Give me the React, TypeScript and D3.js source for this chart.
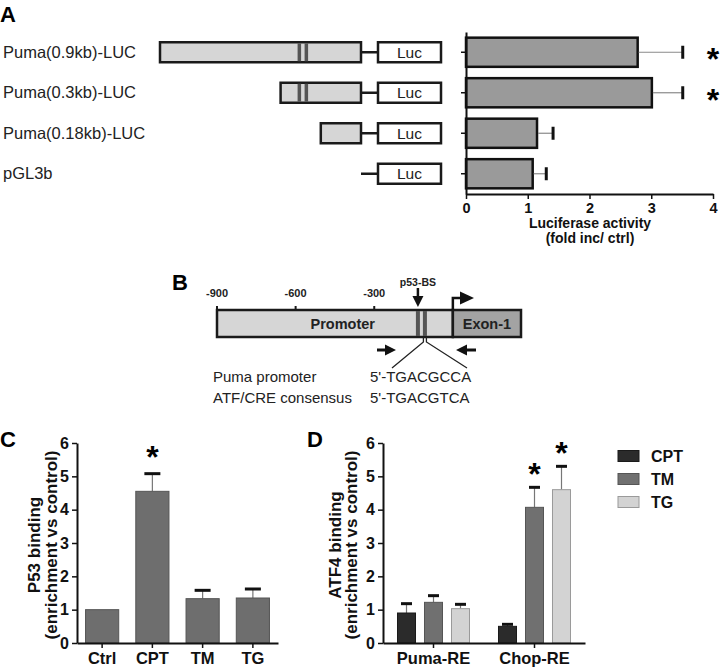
import { useEffect, useRef } from "react";
import * as d3 from "d3";

// Panel A: reporter constructs and luciferase activity
const constructs = ["Puma(0.9kb)-LUC", "Puma(0.3kb)-LUC", "Puma(0.18kb)-LUC", "pGL3b"];
const fragmentStartBp = [-900, -360, -180, null];
const lucMean = [2.78, 3.01, 1.15, 1.08];
const lucSem = [0.73, 0.5, 0.26, 0.22];
const lucSig = [true, true, false, false];
const lucTicks = [0, 1, 2, 3, 4];

// Panel B: promoter map
const mapTicksBp = [-900, -600, -300];
const seqRows = [
  ["Puma promoter", "5'-TGACGCCA"],
  ["ATF/CRE consensus", "5'-TGACGTCA"],
];

// Panel C: P53 ChIP
const cCats = ["Ctrl", "CPT", "TM", "TG"];
const cMean = [1.0, 4.55, 1.33, 1.35];
const cSem = [0, 0.53, 0.25, 0.27];
const cSig = [false, true, false, false];

// Panel D: ATF4 ChIP
const dGroups = ["Puma-RE", "Chop-RE"];
const dSeries = ["CPT", "TM", "TG"];
const dMean = [
  [0.9, 0.5],
  [1.22, 4.07],
  [1.03, 4.6],
];
const dSem = [
  [0.28, 0.06],
  [0.2, 0.6],
  [0.13, 0.7],
];
const dSig = [
  [false, false],
  [false, true],
  [false, true],
];
const bindingTicks = [0, 1, 2, 3, 4, 5, 6];

const FONT = "'Liberation Sans', Arial, Helvetica, sans-serif";

function App() {
  const ref = useRef<SVGSVGElement>(null);

  useEffect(() => {
    const svg = d3.select(ref.current);
    svg.selectAll("*").remove();
    svg.attr("font-family", FONT);

    const letter = (t: string, x: number, y: number) =>
      svg.append("text").attr("x", x).attr("y", y).attr("font-size", 22).attr("font-weight", "bold").text(t);

    const star = (x: number, cy: number) =>
      svg
        .append("text")
        .attr("x", x)
        .attr("y", cy + 18)
        .attr("text-anchor", "middle")
        .attr("font-size", 32)
        .attr("font-weight", "bold")
        .text("*");

    // ---------- Panel A ----------
    letter("A", 0, 22);

    const rowA = d3.scaleBand().domain(constructs).range([32, 194]).paddingInner(0.28).paddingOuter(0.14);
    const bpA = d3.scaleLinear().domain([-900, 0]).range([160, 361]);
    const xA = d3.scaleLinear().domain([0, 4]).range([466, 713]);
    const bsA = -266;
    const lucX = 378;
    const lucW = 63;

    constructs.forEach((c, i) => {
      const cy = rowA(c)! + rowA.bandwidth() / 2;
      svg
        .append("text")
        .attr("x", 3)
        .attr("y", cy + 5.5)
        .attr("font-size", 16.5)
        .attr("fill", "#222")
        .text(c);

      const start = fragmentStartBp[i];
      svg
        .append("line")
        .attr("x1", bpA(0))
        .attr("x2", lucX)
        .attr("y1", cy)
        .attr("y2", cy)
        .attr("stroke", "#1a1a1a")
        .attr("stroke-width", 2.5);
      if (start !== null) {
        svg
          .append("rect")
          .attr("x", bpA(start))
          .attr("y", cy - 10)
          .attr("width", bpA(0) - bpA(start))
          .attr("height", 20)
          .attr("fill", "#d6d6d6")
          .attr("stroke", "#1a1a1a")
          .attr("stroke-width", 2.5);
        if (start < bsA) {
          [-4, 3].forEach((dx) =>
            svg
              .append("rect")
              .attr("x", bpA(bsA) + dx)
              .attr("y", cy - 9)
              .attr("width", 3.5)
              .attr("height", 18)
              .attr("fill", "#555")
          );
        }
      }
      svg
        .append("rect")
        .attr("x", lucX)
        .attr("y", cy - 10)
        .attr("width", lucW)
        .attr("height", 20)
        .attr("fill", "#fff")
        .attr("stroke", "#1a1a1a")
        .attr("stroke-width", 2.5);
      svg
        .append("text")
        .attr("x", lucX + lucW / 2)
        .attr("y", cy + 5.5)
        .attr("text-anchor", "middle")
        .attr("font-size", 15.5)
        .attr("fill", "#222")
        .text("Luc");

      // bar
      svg
        .append("rect")
        .attr("x", xA(0))
        .attr("y", rowA(c)!)
        .attr("width", xA(lucMean[i]) - xA(0))
        .attr("height", rowA.bandwidth())
        .attr("fill", "#9a9a9a")
        .attr("stroke", "#111")
        .attr("stroke-width", 2.5);
      const xe = xA(lucMean[i] + lucSem[i]);
      svg
        .append("line")
        .attr("x1", xA(lucMean[i]) + 1)
        .attr("x2", xe)
        .attr("y1", cy)
        .attr("y2", cy)
        .attr("stroke", "#8a8a8a")
        .attr("stroke-width", 1.2);
      svg
        .append("line")
        .attr("x1", xe)
        .attr("x2", xe)
        .attr("y1", cy - 6.5)
        .attr("y2", cy + 6.5)
        .attr("stroke", "#111")
        .attr("stroke-width", 3);
      if (lucSig[i]) star(713, cy);
    });

    const axA = svg.append("g").attr("transform", "translate(0,194)").call(
      d3.axisBottom(xA).tickValues(lucTicks).tickFormat(d3.format("d")).tickSize(5).tickSizeOuter(0).tickPadding(4)
    );
    const ayA = svg.append("g").attr("transform", "translate(466,0)").call(
      d3.axisLeft(rowA).tickSize(5).tickSizeOuter(0).tickFormat(() => "")
    );
    [axA, ayA].forEach((g) => {
      g.select(".domain").attr("stroke", "#111").attr("stroke-width", 2);
      g.selectAll(".tick line").attr("stroke", "#111").attr("stroke-width", 1.5);
      g.selectAll("text").attr("font-family", FONT).attr("font-size", 14.5).attr("font-weight", "bold").attr("fill", "#111");
    });
    ["Luciferase activity", "(fold inc/ ctrl)"].forEach((t, k) =>
      svg
        .append("text")
        .attr("x", 590)
        .attr("y", 228 + k * 15)
        .attr("text-anchor", "middle")
        .attr("font-size", 14)
        .attr("font-weight", "bold")
        .attr("fill", "#111")
        .text(t)
    );

    // ---------- Panel B ----------
    letter("B", 172, 290);
    const bpB = d3.scaleLinear().domain([-900, 260]).range([217, 521]);
    const bsB = -120;
    const boxTop = 310;
    const boxH = 27;

    svg
      .append("rect")
      .attr("x", bpB(-900))
      .attr("y", boxTop)
      .attr("width", bpB(0) - bpB(-900))
      .attr("height", boxH)
      .attr("fill", "#d6d6d6")
      .attr("stroke", "#1a1a1a")
      .attr("stroke-width", 2.5);
    svg
      .append("rect")
      .attr("x", bpB(0))
      .attr("y", boxTop)
      .attr("width", bpB(260) - bpB(0))
      .attr("height", boxH)
      .attr("fill", "#a3a3a3")
      .attr("stroke", "#1a1a1a")
      .attr("stroke-width", 2.5);
    [-5.5, 1.5].forEach((dx) =>
      svg
        .append("rect")
        .attr("x", bpB(bsB) + dx)
        .attr("y", boxTop + 1)
        .attr("width", 4)
        .attr("height", boxH - 2)
        .attr("fill", "#555")
    );
    mapTicksBp.forEach((b) => {
      svg
        .append("line")
        .attr("x1", bpB(b))
        .attr("x2", bpB(b))
        .attr("y1", boxTop)
        .attr("y2", boxTop - 4)
        .attr("stroke", "#1a1a1a")
        .attr("stroke-width", 2);
      svg
        .append("text")
        .attr("x", bpB(b))
        .attr("y", 297)
        .attr("text-anchor", "middle")
        .attr("font-size", 11)
        .attr("font-weight", "bold")
        .attr("fill", "#222")
        .text(String(b));
    });
    svg
      .append("text")
      .attr("x", bpB(-420))
      .attr("y", boxTop + boxH / 2 + 5)
      .attr("text-anchor", "middle")
      .attr("font-size", 14.5)
      .attr("font-weight", "bold")
      .attr("fill", "#222")
      .text("Promoter");
    svg
      .append("text")
      .attr("x", (bpB(0) + bpB(260)) / 2)
      .attr("y", boxTop + boxH / 2 + 5)
      .attr("text-anchor", "middle")
      .attr("font-size", 14.5)
      .attr("font-weight", "bold")
      .attr("fill", "#222")
      .text("Exon-1");

    // p53-BS arrow
    const ax = bpB(bsB) - 3.5;
    svg
      .append("text")
      .attr("x", ax)
      .attr("y", 286)
      .attr("text-anchor", "middle")
      .attr("font-size", 10.5)
      .attr("font-weight", "bold")
      .attr("fill", "#222")
      .text("p53-BS");
    svg.append("line").attr("x1", ax).attr("x2", ax).attr("y1", 288).attr("y2", 298).attr("stroke", "#111").attr("stroke-width", 2.5);
    svg
      .append("path")
      .attr("d", `M${ax - 5.5},296 L${ax + 5.5},296 L${ax},307 Z`)
      .attr("fill", "#111");

    // transcription start
    const tss = bpB(0);
    svg
      .append("path")
      .attr("d", `M${tss},${boxTop} V298 H462`)
      .attr("fill", "none")
      .attr("stroke", "#111")
      .attr("stroke-width", 2.5);
    svg.append("path").attr("d", `M460,291.5 L474,298 L460,304.5 Z`).attr("fill", "#111");

    // primers
    svg.append("line").attr("x1", 377).attr("x2", 387).attr("y1", 350).attr("y2", 350).attr("stroke", "#111").attr("stroke-width", 3);
    svg.append("path").attr("d", "M385,344.5 L396,350 L385,355.5 Z").attr("fill", "#111");
    svg.append("line").attr("x1", 465).attr("x2", 476).attr("y1", 350).attr("y2", 350).attr("stroke", "#111").attr("stroke-width", 3);
    svg.append("path").attr("d", "M467,344.5 L456,350 L467,355.5 Z").attr("fill", "#111");

    // zoom lines to sequence
    const sx = bpB(bsB) + 3.5;
    svg
      .append("path")
      .attr("d", `M${sx - 1.5},${boxTop + boxH} V342 L392,368 M${sx + 1.5},${boxTop + boxH} V342 L467,368`)
      .attr("fill", "none")
      .attr("stroke", "#222")
      .attr("stroke-width", 1.3);

    seqRows.forEach((r, k) => {
      svg
        .append("text")
        .attr("x", 213)
        .attr("y", 382 + k * 21)
        .attr("font-size", 15)
        .attr("fill", "#222")
        .text(r[0]);
      svg
        .append("text")
        .attr("x", 370)
        .attr("y", 382 + k * 21)
        .attr("font-size", 15)
        .attr("fill", "#222")
        .text(r[1]);
    });

    // ---------- Panels C and D shared ----------
    const yBind = d3.scaleLinear().domain([0, 6]).range([643, 443]);

    const styleAxis = (g: d3.Selection<SVGGElement, unknown, null, undefined>, fs: number) => {
      g.select(".domain").attr("stroke", "#111").attr("stroke-width", 2);
      g.selectAll(".tick line").attr("stroke", "#111").attr("stroke-width", 1.5);
      g.selectAll("text").attr("font-family", FONT).attr("font-size", fs).attr("font-weight", "bold").attr("fill", "#111");
    };

    const yTitle = (x1: number, x2: number, t1: string) => {
      [
        [x1, t1],
        [x2, "(enrichment vs control)"],
      ].forEach(([x, t]) =>
        svg
          .append("text")
          .attr("transform", `translate(${x},545) rotate(-90)`)
          .attr("text-anchor", "middle")
          .attr("font-size", 17)
          .attr("font-weight", "bold")
          .attr("fill", "#111")
          .text(t as string)
      );
    };

    const errBar = (cx: number, m: number, e: number, half: number) => {
      svg
        .append("line")
        .attr("x1", cx)
        .attr("x2", cx)
        .attr("y1", yBind(m))
        .attr("y2", yBind(m + e))
        .attr("stroke", "#777")
        .attr("stroke-width", 1.2);
      svg
        .append("line")
        .attr("x1", cx - half)
        .attr("x2", cx + half)
        .attr("y1", yBind(m + e))
        .attr("y2", yBind(m + e))
        .attr("stroke", "#111")
        .attr("stroke-width", 3);
    };

    // ---------- Panel C ----------
    letter("C", 0, 447);
    const xC = d3.scaleBand().domain(cCats).range([77, 278]).paddingInner(0.34).paddingOuter(0.17);
    cCats.forEach((c, i) => {
      const x = xC(c)!;
      const cx = x + xC.bandwidth() / 2;
      if (cSem[i] > 0) errBar(cx, cMean[i], cSem[i], 8);
      svg
        .append("rect")
        .attr("x", x)
        .attr("y", yBind(cMean[i]))
        .attr("width", xC.bandwidth())
        .attr("height", yBind(0) - yBind(cMean[i]))
        .attr("fill", "#6e6e6e")
        .attr("stroke", "#555")
        .attr("stroke-width", 1);
      if (cSig[i]) star(cx, yBind(cMean[i] + cSem[i]) - 24);
    });
    const ayC = svg.append("g").attr("transform", "translate(77,0)").call(
      d3.axisLeft(yBind).tickValues(bindingTicks).tickFormat(d3.format("d")).tickSize(5).tickSizeOuter(0).tickPadding(3)
    );
    const axC = svg.append("g").attr("transform", "translate(0,643)").call(
      d3.axisBottom(xC).tickSize(5).tickSizeOuter(0).tickPadding(4)
    );
    styleAxis(ayC, 16);
    styleAxis(axC, 16.5);
    yTitle(40, 57, "P53 binding");

    // ---------- Panel D ----------
    letter("D", 307, 447);
    const xD0 = d3.scaleBand().domain(dGroups).range([383, 585]);
    const xD1 = d3.scaleBand().domain(dSeries).range([0, xD0.bandwidth()]).paddingInner(0.333).paddingOuter(0.537);
    const dFill = ["#2b2b2b", "#707070", "#d3d3d3"];
    const dStroke = ["#1a1a1a", "#555", "#9a9a9a"];
    dSeries.forEach((s, si) => {
      dGroups.forEach((g, gi) => {
        const x = xD0(g)! + xD1(s)!;
        const cx = x + xD1.bandwidth() / 2;
        const m = dMean[si][gi];
        const e = dSem[si][gi];
        errBar(cx, m, e, 5.5);
        svg
          .append("rect")
          .attr("x", x)
          .attr("y", yBind(m))
          .attr("width", xD1.bandwidth())
          .attr("height", yBind(0) - yBind(m))
          .attr("fill", dFill[si])
          .attr("stroke", dStroke[si])
          .attr("stroke-width", 1);
        if (dSig[si][gi]) star(cx, yBind(m + e) - 20);
      });
    });
    const ayD = svg.append("g").attr("transform", "translate(383,0)").call(
      d3.axisLeft(yBind).tickValues(bindingTicks).tickFormat(d3.format("d")).tickSize(5).tickSizeOuter(0).tickPadding(3)
    );
    const axD = svg.append("g").attr("transform", "translate(0,643)").call(
      d3.axisBottom(xD0).tickSize(5).tickSizeOuter(0).tickPadding(4)
    );
    styleAxis(ayD, 16);
    styleAxis(axD, 16.5);
    yTitle(341, 357, "ATF4 binding");

    // legend
    dSeries.forEach((s, si) => {
      const cy = 456 + si * 23;
      svg
        .append("rect")
        .attr("x", 618)
        .attr("y", cy - 5.5)
        .attr("width", 21)
        .attr("height", 11)
        .attr("fill", dFill[si])
        .attr("stroke", dStroke[si])
        .attr("stroke-width", 1);
      svg
        .append("text")
        .attr("x", 651)
        .attr("y", cy + 6)
        .attr("font-size", 16)
        .attr("font-weight", "bold")
        .attr("fill", "#111")
        .text(s);
    });
  }, []);

  return (
    <svg
      ref={ref}
      width={720}
      height={667}
      style={{ position: "absolute", left: 0, top: 0, background: "#fff" }}
    />
  );
}

export default App;
